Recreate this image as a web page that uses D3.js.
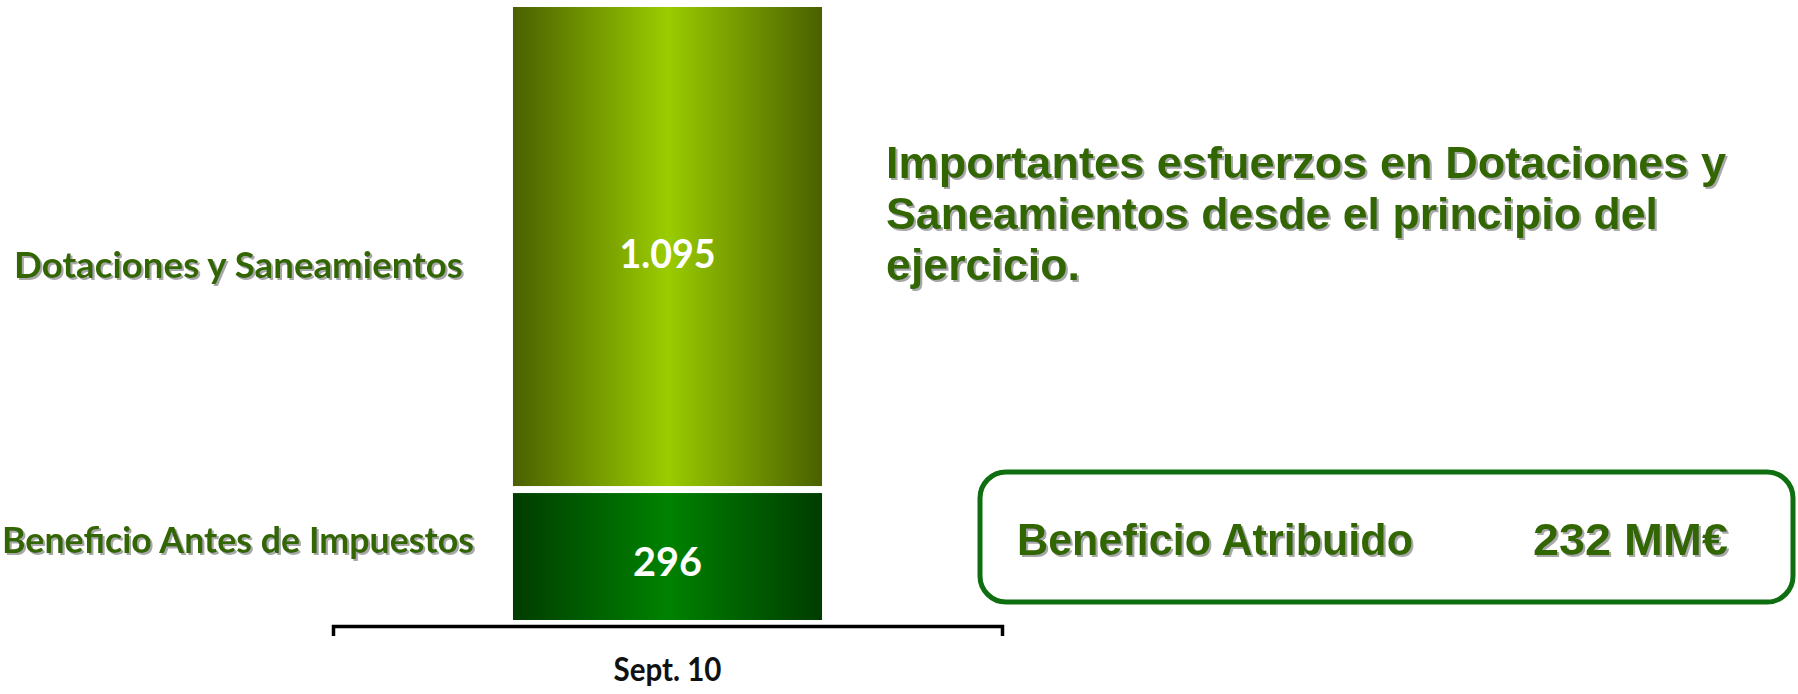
<!DOCTYPE html>
<html>
<head>
<meta charset="utf-8">
<script src="https://cdn.jsdelivr.net/npm/d3@7"></script>
<style>
  html, body { margin: 0; padding: 0; background: #fff; }
  svg { display: block; }
</style>
</head>
<body>
<div id="chart"></div>
<script>
// chart data
var periods = ["Sept. 10"];
var segments = ["Beneficio Antes de Impuestos", "Dotaciones y Saneamientos"];
var segmentValues = [296, 1095];
var valueLabels = ["296", "1.095"];
var headlineLines = ["Importantes esfuerzos en Dotaciones y", "Saneamientos desde el principio del", "ejercicio."];
var boxLabel = "Beneficio Atribuido";
var boxValue = "232 MM€";

var width = 1798, height = 694;
var green = "#336600";

var svg = d3.select("#chart").append("svg")
    .attr("width", width)
    .attr("height", height);

var defs = svg.append("defs");

// horizontal gradients for the two segments
function makeGradient(id, edge, centre) {
  var g = defs.append("linearGradient").attr("id", id)
      .attr("x1", "0%").attr("x2", "100%").attr("y1", "0%").attr("y2", "0%");
  g.append("stop").attr("offset", "0%").attr("stop-color", edge);
  g.append("stop").attr("offset", "50%").attr("stop-color", centre);
  g.append("stop").attr("offset", "100%").attr("stop-color", edge);
}
makeGradient("gradBottom", "#003c00", "#008200");
makeGradient("gradTop", "#4a6000", "#9acc00");

var shadow = defs.append("filter").attr("id", "shadow")
    .attr("x", "-5%").attr("y", "-20%").attr("width", "110%").attr("height", "140%");
shadow.append("feDropShadow")
    .attr("dx", 2).attr("dy", 2).attr("stdDeviation", 0.6)
    .attr("flood-color", "#a8a8a8").attr("flood-opacity", 1);

// scales
var xScale = d3.scaleBand().domain(periods).range([333, 1002]).paddingInner(0.368).paddingOuter(0.368);
var total = d3.sum(segmentValues);
var yScale = d3.scaleLinear().domain([0, total]).range([620, 7]);

// stack the segments
var stacked = [];
var cum = 0;
for (var i = 0; i < segments.length; i++) {
  stacked.push({name: segments[i], value: segmentValues[i], label: valueLabels[i], y0: cum, y1: cum + segmentValues[i]});
  cum += segmentValues[i];
}

var gap = 3.5;
var bars = svg.append("g").selectAll("g")
    .data(stacked)
    .enter()
    .append("g");

bars.append("rect")
    .attr("x", xScale(periods[0]))
    .attr("width", xScale.bandwidth())
    .attr("y", function(d, i) { return yScale(d.y1) + (i == stacked.length - 1 ? 0 : gap); })
    .attr("height", function(d, i) {
      var top = yScale(d.y1) + (i == stacked.length - 1 ? 0 : gap);
      var bottom = yScale(d.y0) - (i == 0 ? 0 : gap);
      return bottom - top;
    })
    .attr("fill", function(d, i) { return i == 0 ? "url(#gradBottom)" : "url(#gradTop)"; });

// values inside bars
bars.append("text")
    .attr("x", xScale(periods[0]) + xScale.bandwidth() / 2)
    .attr("y", function(d, i) { return i == 0 ? 576 : 268; })
    .attr("text-anchor", "middle")
    .attr("font-family", "Lato, 'Open Sans', sans-serif")
    .attr("font-weight", "bold")
    .attr("font-size", "40px")
    .attr("fill", "#fff")
    .attr("textLength", function(d, i) { return i == 0 ? 69 : 96; })
    .attr("lengthAdjust", "spacingAndGlyphs")
    .text(function(d) { return d.label; });

// segment names on the left
var nameY = [553, 278];
var nameX = [2, 14];
var nameLen = [472, 449];
bars.append("text")
    .attr("x", function(d, i) { return nameX[i]; })
    .attr("y", function(d, i) { return nameY[i]; })
    .attr("font-family", "Lato, 'Open Sans', sans-serif")
    .attr("font-weight", "bold")
    .attr("font-size", "36px")
    .attr("fill", green)
    .attr("filter", "url(#shadow)")
    .attr("textLength", function(d, i) { return nameLen[i]; })
    .attr("lengthAdjust", "spacingAndGlyphs")
    .text(function(d) { return d.name; });

// bracket axis
var xAxis = d3.axisBottom(xScale).tickSizeInner(0).tickSizeOuter(10).tickPadding(32);
var axisG = svg.append("g")
    .attr("class", "x axis")
    .attr("transform", "translate(0,626)")
    .call(xAxis);
axisG.select(".domain").attr("stroke", "#000").attr("stroke-width", 3.5);
axisG.selectAll(".tick text")
    .attr("font-family", "Lato, 'Open Sans', sans-serif")
    .attr("font-weight", "bold")
    .attr("font-size", "33px")
    .attr("fill", "#111")
    .attr("textLength", 108)
    .attr("lengthAdjust", "spacingAndGlyphs");

// headline
var lineLen = [840, 772, 194];
svg.append("g").selectAll("text")
    .data(headlineLines)
    .enter()
    .append("text")
    .attr("x", 886)
    .attr("y", function(d, i) { return 178 + i * 51; })
    .attr("font-family", "'Liberation Sans', Arial, sans-serif")
    .attr("font-weight", "bold")
    .attr("font-size", "45px")
    .attr("fill", green)
    .attr("filter", "url(#shadow)")
    .attr("textLength", function(d, i) { return lineLen[i]; })
    .attr("lengthAdjust", "spacingAndGlyphs")
    .text(function(d) { return d; });

// result box
svg.append("rect")
    .attr("x", 980)
    .attr("y", 472)
    .attr("width", 813)
    .attr("height", 130)
    .attr("rx", 26)
    .attr("fill", "#fff")
    .attr("stroke", "#0f6e0f")
    .attr("stroke-width", 5);

svg.append("text")
    .attr("x", 1017)
    .attr("y", 555)
    .attr("font-family", "'Liberation Sans', Arial, sans-serif")
    .attr("font-weight", "bold")
    .attr("font-size", "44px")
    .attr("fill", green)
    .attr("filter", "url(#shadow)")
    .attr("textLength", 396)
    .attr("lengthAdjust", "spacingAndGlyphs")
    .text(boxLabel);

svg.append("text")
    .attr("x", 1533)
    .attr("y", 555)
    .attr("font-family", "'Liberation Sans', Arial, sans-serif")
    .attr("font-weight", "bold")
    .attr("font-size", "44px")
    .attr("fill", green)
    .attr("filter", "url(#shadow)")
    .attr("textLength", 195)
    .attr("lengthAdjust", "spacingAndGlyphs")
    .text(boxValue);
</script>
</body>
</html>
